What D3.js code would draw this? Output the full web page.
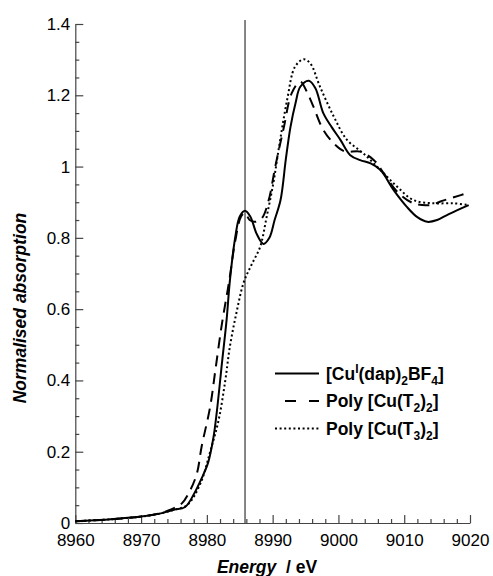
<!DOCTYPE html>
<html><head><meta charset="utf-8">
<script src="https://cdn.jsdelivr.net/npm/d3@7/dist/d3.min.js"></script>
<style>body{margin:0;background:#fff;} svg{display:block;font-family:"Liberation Sans",Arial,sans-serif;}</style>
</head><body><svg id="c" width="493" height="576"></svg>
<script>
// ---- data ----
const xTicks = [8960, 8970, 8980, 8990, 9000, 9010, 9020];
const yTicks = [0, 0.2, 0.4, 0.6, 0.8, 1, 1.2, 1.4];
const yTickLabels = ["0", "0.2", "0.4", "0.6", "0.8", "1", "1.2", "1.4"];
const edgeEnergy = 8985.8;

const cuDapE = [8960,8965,8970,8973,8975,8976.7,8978,8979.2,8980.2,8981,8981.5,8982.3,8983,8983.5,8984.3,8985,8985.8,8986.6,8987.6,8988.6,8989.5,8990.3,8991.2,8992,8992.7,8993.5,8994.2,8995.5,8996.5,8997.7,8999,9000.3,9001.8,9003.3,9004.9,9006.4,9008.4,9010.4,9012,9013.5,9015,9016.5,9018,9019.8];
const cuDapV = [0.005,0.010,0.018,0.027,0.037,0.045,0.08,0.125,0.17,0.24,0.31,0.45,0.57,0.68,0.80,0.86,0.876,0.86,0.81,0.783,0.80,0.85,0.906,1.02,1.11,1.18,1.224,1.241,1.22,1.15,1.11,1.075,1.032,1.018,1.009,0.99,0.934,0.887,0.858,0.845,0.85,0.864,0.877,0.892];

const polyT2E = [8960,8965,8970,8973,8975,8976.2,8977.5,8978.5,8979.2,8980.5,8981.3,8982.3,8983.4,8984.3,8985.2,8985.8,8986.5,8987.4,8988.4,8989.4,8990.4,8991.7,8992.9,8994.2,8995.2,8996.2,8997.7,8999.5,9001,9003.3,9005.4,9006.9,9008.9,9011.4,9014,9015.5,9018.6,9019.6];
const polyT2V = [0.005,0.010,0.018,0.028,0.042,0.055,0.093,0.14,0.214,0.326,0.43,0.56,0.68,0.79,0.86,0.87,0.85,0.845,0.856,0.906,1.0,1.11,1.206,1.238,1.21,1.168,1.103,1.061,1.042,1.042,1.018,0.981,0.93,0.897,0.892,0.902,0.92,0.926];

const polyT3E = [8960,8965,8970,8973,8975,8977,8979,8980.5,8981.8,8982.8,8983.5,8984.5,8985.6,8986.8,8988.1,8989.1,8990.1,8990.9,8992.2,8993.4,8994.7,8995.7,8997.2,8999.3,9001.3,9003.8,9006.4,9008.9,9011.4,9014.5,9017.5,9019.8];
const polyT3V = [0.005,0.010,0.018,0.027,0.037,0.05,0.11,0.2,0.29,0.40,0.495,0.59,0.675,0.725,0.775,0.86,0.953,1.047,1.187,1.28,1.301,1.29,1.224,1.14,1.075,1.037,0.99,0.944,0.906,0.897,0.897,0.892];

const seriesNames = ["CuDap", "PolyT2", "PolyT3"];

// ---- drawing ----
const svg = d3.select("#c");
const x = d3.scaleLinear().domain([8960, 9020]).range([75.3, 470]);
const y = d3.scaleLinear().domain([0, 1.4]).range([523, 24]);

const axisColor = "#444";
const tickFont = 17;

// minor ticks
const xMinor = d3.range(8960, 9020.1, 2).filter(v => v % 10 !== 0);
const yMinor = d3.range(0, 1.401, 0.05).map(v => +v.toFixed(2)).filter(v => Math.abs(v*5 - Math.round(v*5)) > 1e-6);

svg.append("g").attr("transform", `translate(0,${y(0)})`)
  .call(d3.axisBottom(x).tickValues(xTicks).tickFormat(d3.format("d")).tickSize(-8).tickSizeOuter(0).tickPadding(11));
svg.append("g").attr("transform", `translate(0,${y(0)})`)
  .call(d3.axisBottom(x).tickValues(xMinor).tickFormat("").tickSize(-4).tickSizeOuter(0))
  .select(".domain").remove();
svg.append("g").attr("transform", `translate(${x(8960)},0)`)
  .call(d3.axisLeft(y).tickValues(yTicks).tickFormat((d, i) => yTickLabels[i]).tickSize(-8).tickSizeOuter(0).tickPadding(5));
svg.append("g").attr("transform", `translate(${x(8960)},0)`)
  .call(d3.axisLeft(y).tickValues(yMinor).tickFormat("").tickSize(-4).tickSizeOuter(0))
  .select(".domain").remove();

svg.selectAll(".domain, .tick line").attr("stroke", axisColor).attr("stroke-width", 1.2);
svg.selectAll(".tick text").attr("font-size", tickFont).attr("font-family", "Liberation Sans, Arial, sans-serif").attr("fill", "#000");

// vertical edge line
svg.append("line").attr("x1", x(edgeEnergy)).attr("x2", x(edgeEnergy))
  .attr("y1", 20).attr("y2", y(0)).attr("stroke", "#222").attr("stroke-width", 1.1);

const line = d3.line().x(d => x(d[0])).y(d => y(d[1])).curve(d3.curveCatmullRom.alpha(0.5));
const zip = (a, b) => a.map((v, i) => [v, b[i]]);

const styles = {
  CuDap: {dash: null, w: 2},
  PolyT2: {dash: "11,7", w: 2},
  PolyT3: {dash: "2,2.6", w: 2}
};
const data = {CuDap: zip(cuDapE, cuDapV), PolyT2: zip(polyT2E, polyT2V), PolyT3: zip(polyT3E, polyT3V)};

seriesNames.forEach(n => {
  svg.append("path").datum(data[n]).attr("d", line)
    .attr("fill", "none").attr("stroke", "#000").attr("stroke-width", styles[n].w)
    .attr("stroke-dasharray", styles[n].dash);
});

// legend
const legRows = [
  {n: "CuDap", y: 379.5, parts: [["[Cu",""],["I","sup"],["(dap)",""],["2","sub"],["BF",""],["4","sub"],["]",""]]},
  {n: "PolyT2", y: 407, parts: [["Poly [Cu(T",""],["2","sub"],[")",""],["2","sub"],["]",""]]},
  {n: "PolyT3", y: 434.5, parts: [["Poly [Cu(T",""],["3","sub"],[")",""],["2","sub"],["]",""]]}
];
legRows.forEach(r => {
  const ly = r.y - 6;
  const x0 = r.n === "PolyT2" ? 285 : 275;
  svg.append("line").attr("x1", x0).attr("x2", 319).attr("y1", ly).attr("y2", ly)
    .attr("stroke", "#000").attr("stroke-width", styles[r.n].w)
    .attr("stroke-dasharray", r.n === "PolyT2" ? "11,13" : styles[r.n].dash);
  const t = svg.append("text").attr("x", 326).attr("y", r.y)
    .attr("font-size", 17.5).attr("font-weight", "bold").attr("fill", "#000");
  let cur = 0;
  r.parts.forEach(p => {
    const target = p[1] === "sub" ? 5 : (p[1] === "sup" ? -7 : 0);
    const ts = t.append("tspan").text(p[0]).attr("dy", target - cur);
    if (p[1]) ts.attr("font-size", 12);
    cur = target;
  });
});

// axis titles
svg.append("text").attr("x", 267).attr("y", 573).attr("text-anchor", "middle")
  .attr("font-size", 17.5).attr("font-weight", "bold").attr("fill", "#000")
  .call(t => {
    t.append("tspan").attr("font-style", "italic").text("Energy");
    t.append("tspan").text("\u00a0\u00a0/ eV");
  });
svg.append("text").attr("transform", "translate(26,308) rotate(-90)").attr("text-anchor", "middle")
  .attr("font-size", 17.5).attr("font-weight", "bold").attr("font-style", "italic").attr("fill", "#000")
  .text("Normalised absorption");
</script>
</body></html>
